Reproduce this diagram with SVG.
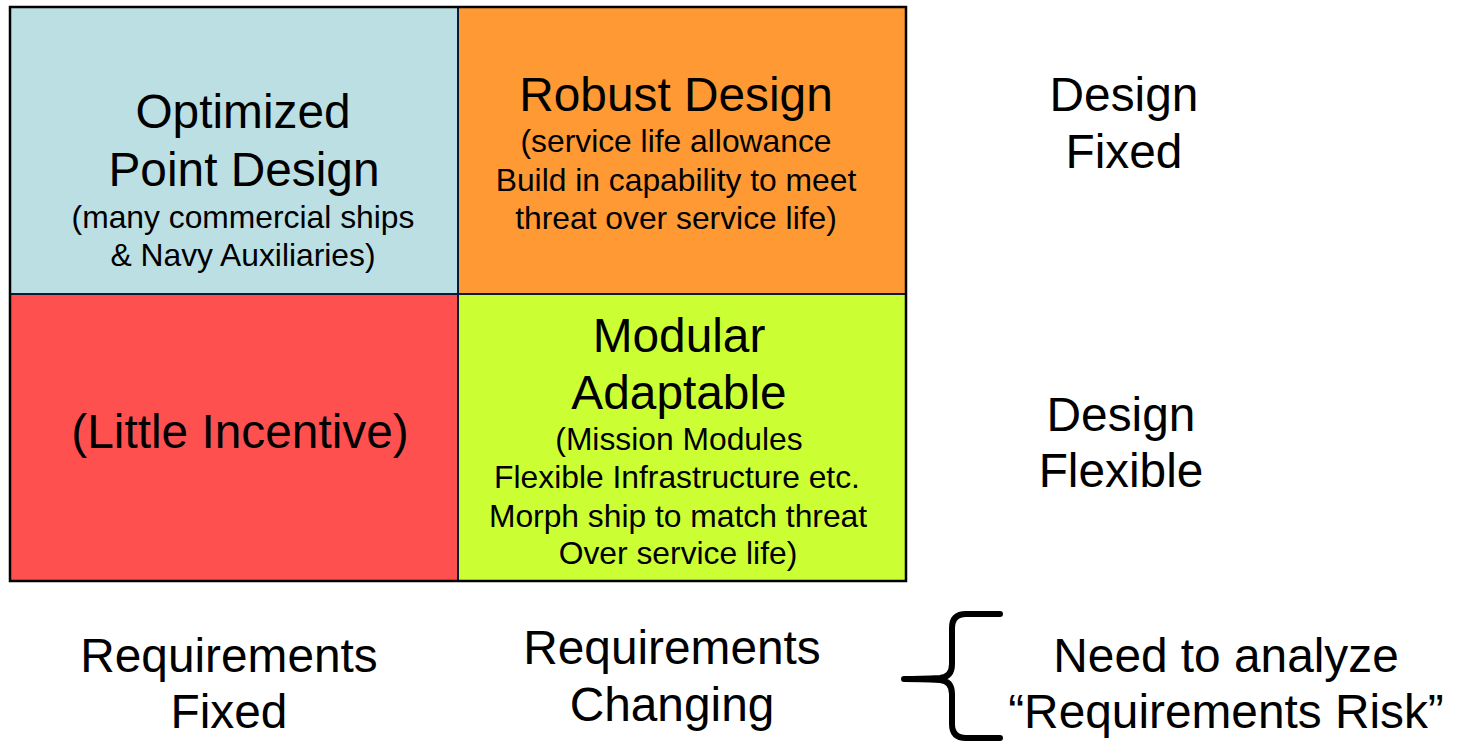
<svg xmlns="http://www.w3.org/2000/svg" width="1459" height="744" viewBox="0 0 1459 744">
<style>
text{font-family:"Liberation Sans",Arial,sans-serif;fill:#000;text-anchor:middle}
.b{font-size:47.8px}
.s{font-size:31.8px}
.cell{stroke:#0a1a3a;stroke-width:2}
</style>
<rect width="1459" height="744" fill="#fff"/>
<g id="cell-optimized">
<rect class="cell" x="10" y="7" width="448" height="287" fill="#BBDFE3"/>
<text class="b" x="243" y="128">Optimized</text>
<text class="b" x="244" y="186">Point Design</text>
<text class="s" x="243" y="228">(many commercial ships</text>
<text class="s" x="243" y="266">&amp; Navy Auxiliaries)</text>
</g>
<g id="cell-robust">
<rect class="cell" x="458" y="7" width="448" height="287" fill="#FF9933"/>
<text class="b" x="676" y="111">Robust Design</text>
<text class="s" x="676" y="152">(service life allowance</text>
<text class="s" x="676" y="191">Build in capability to meet</text>
<text class="s" x="676" y="229">threat over service life)</text>
</g>
<g id="cell-little">
<rect class="cell" x="10" y="294" width="448" height="287" fill="#FF5050"/>
<text class="b" x="240" y="448">(Little Incentive)</text>
</g>
<g id="cell-modular">
<rect class="cell" x="458" y="294" width="448" height="287" fill="#CCFF33"/>
<text class="b" x="679" y="352">Modular</text>
<text class="b" x="679" y="409">Adaptable</text>
<text class="s" x="679" y="450">(Mission Modules</text>
<text class="s" x="677" y="488">Flexible Infrastructure etc.</text>
<text class="s" x="678" y="527">Morph ship to match threat</text>
<text class="s" x="678" y="564">Over service life)</text>
</g>
<rect x="10" y="7" width="896" height="574" fill="none" stroke="#000" stroke-width="2.5"/>
<g id="label-design-fixed">
<text class="b" x="1124" y="111">Design</text>
<text class="b" x="1124" y="168">Fixed</text>
</g>
<g id="label-design-flexible">
<text class="b" x="1121" y="431">Design</text>
<text class="b" x="1121" y="487">Flexible</text>
</g>
<g id="label-req-fixed">
<text class="b" x="229" y="672">Requirements</text>
<text class="b" x="229" y="728">Fixed</text>
</g>
<g id="label-req-changing">
<text class="b" x="672" y="664">Requirements</text>
<text class="b" x="672" y="721">Changing</text>
</g>
<g id="label-risk">
<text class="b" x="1226" y="672">Need to analyze</text>
<text class="b" x="1226" y="728">“Requirements Risk”</text>
</g>
<g id="connectors">
<path d="M1000,614 L966,614 Q952,614 952,628 L952,664 Q952,677 940,678 Q920,679 904,679 Q920,679 940,680 Q952,681 952,694 L952,724 Q952,738 966,738 L1000,738" fill="none" stroke="#000" stroke-width="6" stroke-linecap="round" stroke-linejoin="round"/>
</g>
</svg>
